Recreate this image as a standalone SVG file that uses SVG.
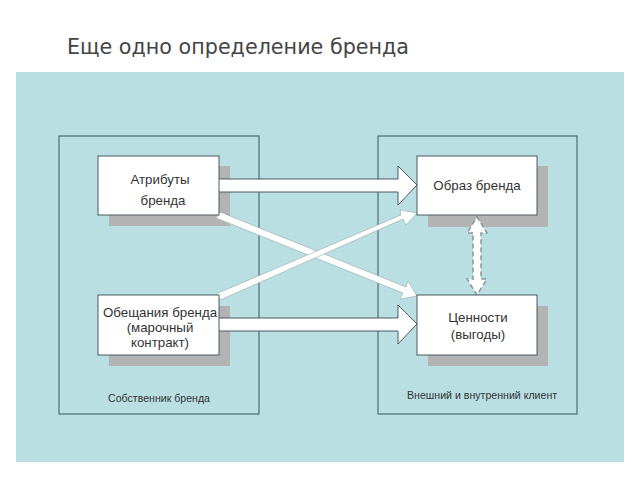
<svg xmlns="http://www.w3.org/2000/svg" width="640" height="480" viewBox="0 0 640 480">
<defs>
<style>
.panel{fill:none;stroke:#4f6c72;stroke-width:1.2}
.box{fill:#fff;stroke:#4a5a60;stroke-width:1}
.sh{fill:#b3b3b3}
.t{font-family:"Liberation Sans",Arial,sans-serif;font-size:13.3px;fill:#333;text-anchor:middle}
.s{font-family:"Liberation Sans",Arial,sans-serif;font-size:10.6px;fill:#333}
.big{fill:#fff;stroke:#4a5a60;stroke-width:1}
.thin{fill:#fff;stroke:#9aa8ab;stroke-width:0.6}
</style>
</defs>
<rect width="640" height="480" fill="#fff"/>
<text x="67" y="54" font-family="DejaVu Sans,sans-serif" font-size="20.7" fill="#444">Еще одно определение бренда</text>
<rect x="16" y="72" width="608" height="390" fill="#b9dfe2"/>
<g id="panel-left">
<rect class="panel" x="59" y="136" width="200" height="278"/>
<text class="s" x="108" y="402">Собственник бренда</text>
</g>
<g id="panel-right">
<rect class="panel" x="378" y="136" width="199" height="278"/>
<text class="s" x="407" y="399">Внешний и внутренний клиент</text>
</g>
<g id="shadows">
<rect class="sh" x="109" y="166" width="121" height="60"/>
<rect class="sh" x="109" y="306" width="121" height="60"/>
<rect class="sh" x="428" y="166" width="120" height="61"/>
<rect class="sh" x="428" y="306" width="120" height="60"/>
</g>
<g id="connectors">
<path class="big" d="M218,179 H398 V166 L417,185 L398,205 V192 H218 Z"/>
<path class="big" d="M218,318 H398 V305 L417,324 L398,344 V331 H218 Z"/>
<path class="thin" d="M216,218 L220,212 L406,287 L408,281 L417,296 L400,299 L403,293 L216,218 Z"/>
<path class="thin" d="M216,294 L220,300 L403,219 L406,225 L417,213 L400,210 L401,215 Z"/>
<path d="M473,233 H467 L477,217 L487,233 H481 V279 H487 L477,295 L467,279 H473 Z" fill="#fff" stroke="#8a9699" stroke-width="1.5" stroke-dasharray="5,3"/>
</g>
<g id="node-attr">
<rect class="box" x="98" y="156" width="121" height="59"/>
<text class="t" x="160" y="184">Атрибуты</text>
<text class="t" x="163" y="205">бренда</text>
</g>
<g id="node-promise">
<rect class="box" x="98" y="295" width="121" height="60"/>
<text class="t" x="160" y="317">Обещания бренда</text>
<text class="t" x="160" y="332">(марочный</text>
<text class="t" x="160" y="347">контракт)</text>
</g>
<g id="node-image">
<rect class="box" x="417" y="156" width="120" height="59"/>
<text class="t" x="477" y="190">Образ бренда</text>
</g>
<g id="node-values">
<rect class="box" x="417" y="295" width="120" height="60"/>
<text class="t" x="478" y="322">Ценности</text>
<text class="t" x="478" y="339">(выгоды)</text>
</g>
</svg>
